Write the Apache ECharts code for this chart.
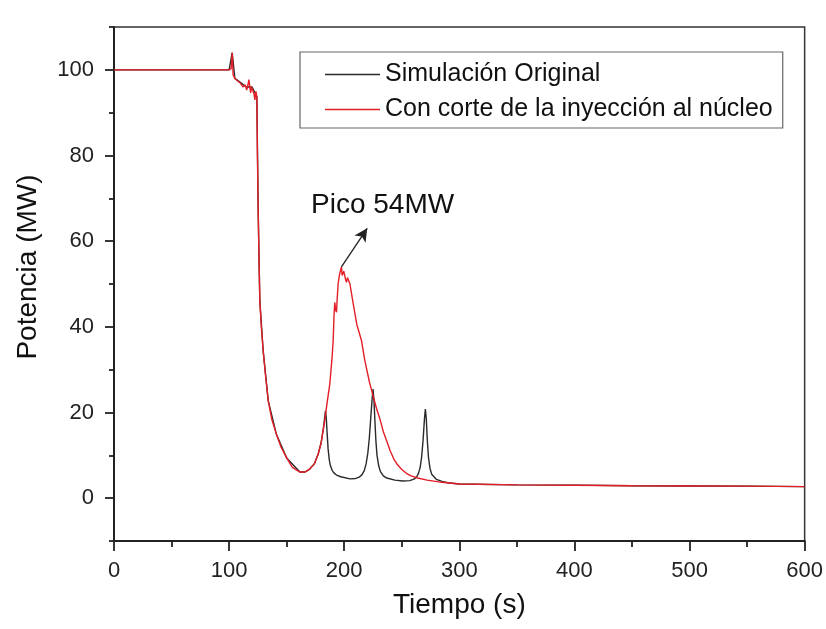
<!DOCTYPE html>
<html>
<head>
<meta charset="utf-8">
<script src="https://cdn.jsdelivr.net/npm/echarts@6/dist/echarts.min.js"></script>
<style>
html,body{margin:0;padding:0;background:#fff;}
#chart{width:826px;height:629px;}
</style>
</head>
<body>
<div id="chart"></div>
<script>
// ---- data ----
var redName = 'Con corte de la inyección al núcleo';
var blackName = 'Simulación Original';

var redTime = [0,100,101.8,102.7,103.5,105,107,109.4,112,114,115.2,116,117.2,118.7,119.5,120.7,121.5,122.4,123.3,124.1,124.6,125.3,126,126.7,128,129.6,131.5,134,137,141,145,150,155,161.5,166,170,174,177.4,180,183,185,187.5,189.5,190.4,191.2,191.8,192.5,193.3,194,194.7,195.8,196.8,197.6,198.2,198.8,199.6,200.5,201.2,202,202.8,203.4,205,207.8,211,215,218,222,225,228,231,234,237,240,243,246,250,254,258,264,272,285,300,350,400,450,500,550,600];
var redPower = [100,100,100.3,104,98.8,98,97.5,97,96,96.5,95.3,96,97.7,94.6,96,96,94.5,93,95,93.7,80,66.5,55,46,40,34.4,29,22.7,18.5,15,12,9.4,7.2,6.1,6.1,6.8,8,10.3,13,18,22,26.7,33,36.8,43,45.7,44,43.4,47,50,52,53.2,54,52,51.6,53,52.8,51,50.4,51.5,51.3,50,45.4,40.5,36.8,32,27,24,21,18.5,15.5,13.3,11,9.2,7.9,6.7,5.8,5.2,4.7,4.2,3.7,3.3,3.1,3.0,2.9,2.85,2.8,2.7];

var blackTime = [0,100,102.7,105,110,115,120,124.1,125.3,126.7,129.6,134,141,150,161.5,166,170,174,177.4,180,182,183,183.7,184.4,185.2,186,187,188,189.5,191,193.3,197,205,210,213,215.5,217.5,219,220.5,221.8,223,224.2,225,225.8,226.6,227.5,228.5,230,231.5,234,237,244,251,257,261,263,264.5,266,267.2,268.5,269.7,270.5,271.3,272.2,273.2,274.5,276,280,285,290,300,350,400,450,500,550,600];
var blackPower = [100,100,104,98,97,96,96,93.7,66.5,46,34.4,22.7,15,9.4,6.1,6.1,6.8,8,10.3,13,16.5,18.8,20.4,18.8,15,11.5,9,7.6,6.5,5.9,5.4,5,4.5,4.6,4.9,5.5,6.5,8,10.5,14,18.5,23,25.5,23,18.5,13.5,10,7.5,6.2,5.2,4.7,4.2,4,4.1,4.5,5,5.8,7.2,9.5,13.5,18.5,20.8,18.5,13.5,9.5,7,5.6,4.4,3.9,3.6,3.3,3.1,3.05,2.9,2.85,2.8,2.7];

var xTicks = [0,100,200,300,400,500,600];
var yMajorTicks = [0,20,40,60,80,100];
var yMinorTicks = [-10,10,30,50,70,90,110];

var peakLabel = 'Pico 54MW';
var arrowFrom = [197.6, 54];
var arrowTo = [220, 63];

function pairs(t, v) { return t.map(function (x, i) { return [x, v[i]]; }); }

var chart = echarts.init(document.getElementById('chart'), null, {renderer: 'canvas'});
var FONT = 'Liberation Sans, Arial, sans-serif';
var axisColor = '#222';

chart.setOption({
  backgroundColor: '#fff',
  animation: false,
  grid: {left: 114, right: 21, top: 27, bottom: 88, show: true, borderColor: '#333', borderWidth: 1.5, backgroundColor: 'transparent'},
  legend: {
    orient: 'vertical', left: 300, top: 52,
    padding: [10, 10, 6, 25],
    borderColor: '#666', borderWidth: 1.2, borderRadius: 0,
    icon: 'rect', itemWidth: 55, itemHeight: 1.5, itemGap: 10,
    textStyle: {fontFamily: FONT, fontSize: 25, color: '#111'},
    data: [blackName, redName]
  },
  xAxis: {
    type: 'value', min: 0, max: 600, interval: 100,
    axisLine: {show: true, onZero: false, lineStyle: {color: axisColor, width: 2}},
    axisTick: {show: true, inside: false, length: 10, lineStyle: {color: axisColor, width: 1.8}},
    minorTick: {show: true, splitNumber: 2, length: 6, lineStyle: {color: axisColor, width: 1.8}},
    splitLine: {show: false},
    axisLabel: {fontFamily: FONT, fontSize: 22, color: '#222', margin: 19},
    name: 'Tiempo (s)', nameLocation: 'middle', nameGap: 50,
    nameTextStyle: {fontFamily: FONT, fontSize: 28, color: '#111'}
  },
  yAxis: [{
    type: 'value', min: -10, max: 110, interval: 10,
    axisLine: {show: true, onZero: false, lineStyle: {color: axisColor, width: 2}},
    axisTick: {show: true, inside: false, length: 9, customValues: yMajorTicks, lineStyle: {color: axisColor, width: 1.8}},
    splitLine: {show: false},
    axisLabel: {fontFamily: FONT, fontSize: 22, color: '#222', margin: 20, customValues: yMajorTicks}
  }, {
    type: 'value', min: -10, max: 110, interval: 10, position: 'left', offset: 0,
    axisLine: {show: false},
    axisTick: {show: true, inside: false, length: 5, customValues: yMinorTicks, lineStyle: {color: axisColor, width: 1.8}},
    splitLine: {show: false},
    axisLabel: {show: false}
  }],
  graphic: [{
    type: 'text', x: 28, y: 267, rotation: Math.PI / 2,
    style: {text: 'Potencia (MW)', font: '28px ' + FONT, fill: '#111', textAlign: 'center', textVerticalAlign: 'middle'}
  }, {
    type: 'text', x: 311, y: 205,
    style: {text: peakLabel, font: '28px ' + FONT, fill: '#111', textAlign: 'left', textVerticalAlign: 'middle'}
  }],
  series: [{
    name: blackName, type: 'line', data: pairs(blackTime, blackPower),
    showSymbol: false, symbol: 'none', smooth: false,
    lineStyle: {color: '#2a2a2a', width: 1.4}, itemStyle: {color: '#2a2a2a'}, z: 2
  }, {
    name: redName, type: 'line', data: pairs(redTime, redPower),
    showSymbol: false, symbol: 'none', smooth: false,
    lineStyle: {color: '#e41e26', width: 1.4}, itemStyle: {color: '#e41e26'}, z: 3,
    markLine: {
      silent: true, symbol: ['none', 'arrow'], symbolSize: [10, 13],
      lineStyle: {color: '#222', width: 1.3, type: 'solid'},
      label: {show: false},
      data: [[{coord: arrowFrom}, {coord: arrowTo}]]
    }
  }]
});
</script>
</body>
</html>
